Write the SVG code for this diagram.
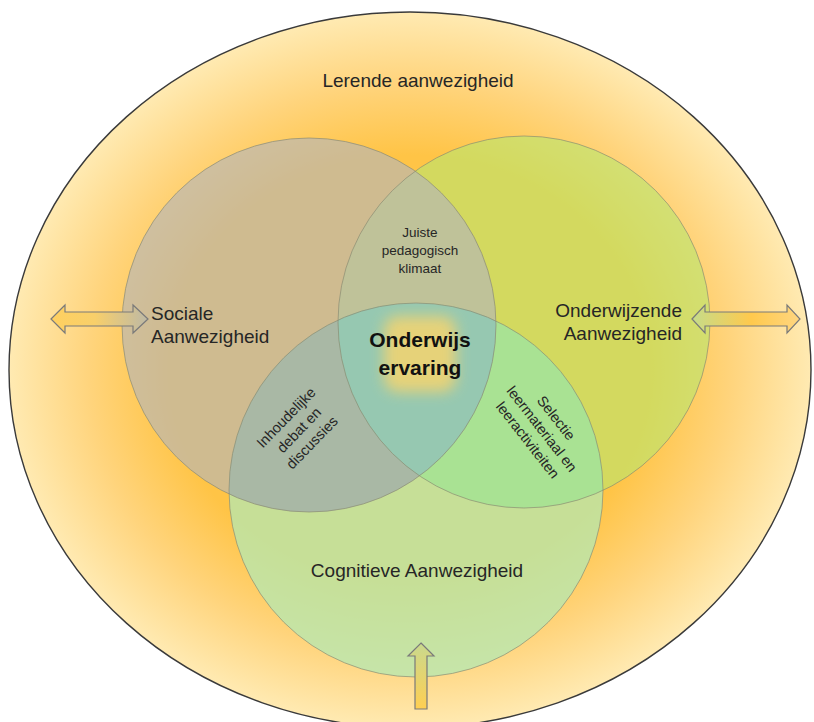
<svg xmlns="http://www.w3.org/2000/svg" width="814" height="722" viewBox="0 0 814 722">
<style>
.lbl{font-family:"Liberation Sans",Arial,sans-serif;fill:#262626;}
.big{font-size:19px;}
.small{font-size:13.5px;}
.rot{font-size:14.5px;}
.bold{font-size:21px;font-weight:bold;fill:#111;}
.ring{fill:none;stroke:#8a8a70;stroke-width:0.8;stroke-opacity:0.85;}
.arrow{stroke:#7a7a7a;stroke-width:1.2;}
</style>
<defs>
<radialGradient id="gBg" cx="0.5" cy="0.5" r="0.5">
<stop offset="0" stop-color="#FFC446"/>
<stop offset="0.6" stop-color="#FFC446"/>
<stop offset="0.8" stop-color="#FFD47C"/>
<stop offset="1" stop-color="#FFEAB2"/>
</radialGradient>
<linearGradient id="gLeft" x1="0" y1="0" x2="1" y2="0">
<stop offset="0" stop-color="#FFD060"/>
<stop offset="0.45" stop-color="#F8CF6A"/>
<stop offset="1" stop-color="#BDB9A6"/>
</linearGradient>
<linearGradient id="gRight" x1="0" y1="0" x2="1" y2="0">
<stop offset="0" stop-color="#C5DC8A"/>
<stop offset="0.55" stop-color="#FFC94D"/>
<stop offset="1" stop-color="#FFD680"/>
</linearGradient>
<linearGradient id="gUp" x1="0" y1="0" x2="0" y2="1">
<stop offset="0" stop-color="#C9D98E"/>
<stop offset="1" stop-color="#FFCF52"/>
</linearGradient>
<filter id="blur" x="-50%" y="-50%" width="200%" height="200%">
<feGaussianBlur stdDeviation="7"/>
</filter>
<clipPath id="cpBottom"><circle cx="416" cy="490" r="187"/></clipPath>
<clipPath id="cpLeft"><circle cx="309" cy="325" r="187"/></clipPath>
</defs>

<g id="lerende-aanwezigheid">
<ellipse cx="410" cy="370" rx="401" ry="358" fill="url(#gBg)" stroke="#3a3a3a" stroke-width="1.4"/>
<text class="lbl big" x="418" y="87" text-anchor="middle">Lerende aanwezigheid</text>
</g>

<g id="onderwijzende-aanwezigheid">
<circle cx="524" cy="322" r="186" fill="#B5E870" fill-opacity="0.6"/>
</g>

<g id="sociale-aanwezigheid">
<circle cx="309" cy="325" r="187" fill="#B4B6BA" fill-opacity="0.64"/>
</g>

<g id="cognitieve-aanwezigheid">
<circle cx="416" cy="490" r="187" fill="#B3E8B3" fill-opacity="0.75"/>
<g clip-path="url(#cpBottom)">
<circle cx="309" cy="325" r="187" fill="#97939F" fill-opacity="0.5"/>
<circle cx="524" cy="322" r="186" fill="#8EDE81" fill-opacity="0.4"/>
</g>
</g>

<g id="overlap-tints">
<g clip-path="url(#cpBottom)">
<g clip-path="url(#cpLeft)">
<circle cx="524" cy="322" r="186" fill="#90C8CC" fill-opacity="0.5"/>
</g>
</g>
</g>

<g id="outlines">
<circle class="ring" cx="524" cy="322" r="186"/>
<circle class="ring" cx="309" cy="325" r="187"/>
<circle class="ring" cx="416" cy="490" r="187"/>
</g>

<g id="labels">
<text class="lbl big" x="682" y="317" text-anchor="end">Onderwijzende</text>
<text class="lbl big" x="682" y="340" text-anchor="end">Aanwezigheid</text>
<text class="lbl big" x="151" y="320">Sociale</text>
<text class="lbl big" x="151" y="343">Aanwezigheid</text>
<text class="lbl big" x="417" y="577" text-anchor="middle">Cognitieve Aanwezigheid</text>
</g>

<g id="juiste-pedagogisch-klimaat">
<text class="lbl small" x="420" y="237" text-anchor="middle">Juiste</text>
<text class="lbl small" x="420" y="255" text-anchor="middle">pedagogisch</text>
<text class="lbl small" x="420" y="273" text-anchor="middle">klimaat</text>
</g>

<g id="inhoudelijke-debat">
<g transform="translate(299,430) rotate(-46)">
<text class="lbl rot" x="0" y="-13" text-anchor="middle">Inhoudelijke</text>
<text class="lbl rot" x="0" y="5" text-anchor="middle">debat en</text>
<text class="lbl rot" x="0" y="23" text-anchor="middle">discussies</text>
</g>
</g>

<g id="selectie-leermateriaal">
<g transform="translate(542,429) rotate(52)">
<text class="lbl rot" x="0" y="-13" text-anchor="middle">Selectie</text>
<text class="lbl rot" x="0" y="5" text-anchor="middle">leermateriaal en</text>
<text class="lbl rot" x="0" y="23" text-anchor="middle">leeractiviteiten</text>
</g>
</g>

<g id="onderwijs-ervaring">
<rect x="384" y="316" width="72" height="76" rx="14" fill="#F4D470" opacity="0.85" filter="url(#blur)"/>
<text class="lbl bold" x="420" y="347" text-anchor="middle">Onderwijs</text>
<text class="lbl bold" x="420" y="375" text-anchor="middle">ervaring</text>
</g>

<g id="connectors">
<path class="arrow" fill="url(#gLeft)" d="M51,319 L65,305 L65,312 L133,312 L133,305 L148,319 L133,333 L133,326 L65,326 L65,333 Z"/>
<path class="arrow" fill="url(#gRight)" d="M692,319 L705,305 L705,312 L787,312 L787,305 L800,319 L787,333 L787,326 L705,326 L705,333 Z"/>
<path class="arrow" fill="url(#gUp)" d="M421,643 L434,656 L427,656 L427,709 L415,709 L415,656 L408,656 Z"/>
</g>
</svg>
